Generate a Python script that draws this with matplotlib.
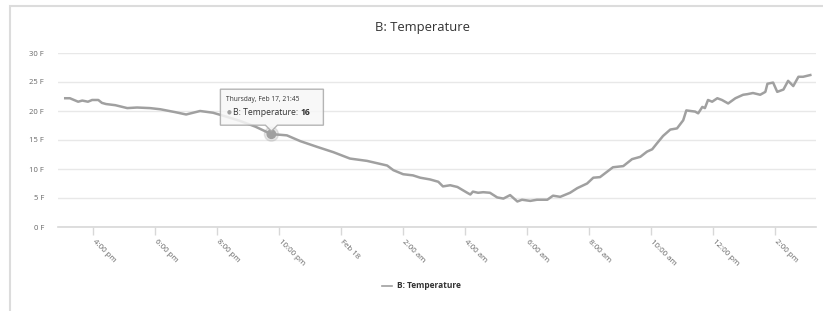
import numpy as np
import pandas as pd
import matplotlib
matplotlib.use("Agg")
import matplotlib.pyplot as plt
import matplotlib.dates as mdates
from matplotlib.patches import Rectangle, Polygon, Circle
from matplotlib.transforms import IdentityTransform

plt.rcParams['font.family'] = ['Open Sans', 'DejaVu Sans']

# readings, Feb 17 -> Feb 18 2022 (deg F)
times = ["2022-02-17 15:06", "2022-02-17 15:15", "2022-02-17 15:31", "2022-02-17 15:39",
         "2022-02-17 15:50", "2022-02-17 15:58", "2022-02-17 16:10", "2022-02-17 16:17",
         "2022-02-17 16:25", "2022-02-17 16:43", "2022-02-17 17:06", "2022-02-17 17:25",
         "2022-02-17 17:50", "2022-02-17 18:10", "2022-02-17 18:39", "2022-02-17 19:00",
         "2022-02-17 19:27", "2022-02-17 19:52", "2022-02-17 20:15", "2022-02-17 20:44",
         "2022-02-17 21:14", "2022-02-17 21:45", "2022-02-17 22:02", "2022-02-17 22:15",
         "2022-02-17 22:41", "2022-02-17 23:14", "2022-02-17 23:45", "2022-02-18 00:17",
         "2022-02-18 00:50", "2022-02-18 01:29", "2022-02-18 01:41", "2022-02-18 02:00",
         "2022-02-18 02:19", "2022-02-18 02:33", "2022-02-18 02:52", "2022-02-18 03:08",
         "2022-02-18 03:17", "2022-02-18 03:31", "2022-02-18 03:45", "2022-02-18 04:04",
         "2022-02-18 04:10", "2022-02-18 04:15", "2022-02-18 04:25", "2022-02-18 04:35",
         "2022-02-18 04:48", "2022-02-18 05:02", "2022-02-18 05:14", "2022-02-18 05:27",
         "2022-02-18 05:41", "2022-02-18 05:50", "2022-02-18 06:06", "2022-02-18 06:19",
         "2022-02-18 06:39", "2022-02-18 06:50", "2022-02-18 07:04", "2022-02-18 07:23",
         "2022-02-18 07:37", "2022-02-18 07:56", "2022-02-18 08:08", "2022-02-18 08:21",
         "2022-02-18 08:46", "2022-02-18 09:06", "2022-02-18 09:23", "2022-02-18 09:39",
         "2022-02-18 09:52", "2022-02-18 10:02", "2022-02-18 10:11", "2022-02-18 10:23",
         "2022-02-18 10:37", "2022-02-18 10:50", "2022-02-18 11:02", "2022-02-18 11:08",
         "2022-02-18 11:25", "2022-02-18 11:31", "2022-02-18 11:39", "2022-02-18 11:44",
         "2022-02-18 11:50", "2022-02-18 11:58", "2022-02-18 12:08", "2022-02-18 12:17",
         "2022-02-18 12:29", "2022-02-18 12:43", "2022-02-18 12:58", "2022-02-18 13:06",
         "2022-02-18 13:17", "2022-02-18 13:31", "2022-02-18 13:41", "2022-02-18 13:45",
         "2022-02-18 13:56", "2022-02-18 14:04", "2022-02-18 14:16", "2022-02-18 14:25",
         "2022-02-18 14:35", "2022-02-18 14:45", "2022-02-18 14:54", "2022-02-18 15:08"]
temps = [22.2, 22.2, 21.6, 21.8, 21.6, 21.9, 21.9, 21.4,
         21.2, 21.0, 20.5, 20.6, 20.5, 20.3, 19.8, 19.4,
         20.0, 19.7, 19.1, 18.3, 17.3, 16.0, 15.9, 15.8,
         14.8, 13.8, 12.9, 11.8, 11.4, 10.6, 9.8, 9.1,
         8.9, 8.5, 8.2, 7.8, 7.0, 7.2, 6.9, 5.9,
         5.6, 6.1, 5.9, 6.0, 5.9, 5.1, 4.9, 5.5,
         4.4, 4.7, 4.5, 4.7, 4.7, 5.4, 5.2, 5.9,
         6.7, 7.5, 8.5, 8.6, 10.3, 10.5, 11.7, 12.1,
         13.0, 13.4, 14.4, 15.7, 16.8, 17.0, 18.4, 20.1,
         19.9, 19.6, 20.7, 20.5, 21.9, 21.6, 22.2, 21.9,
         21.3, 22.2, 22.8, 22.9, 23.1, 22.8, 23.3, 24.7,
         24.9, 23.3, 23.7, 25.2, 24.3, 25.9, 25.9, 26.2]

tick_times = ["2022-02-17 16:00", "2022-02-17 18:00", "2022-02-17 20:00", "2022-02-17 22:00",
              "2022-02-18 00:00", "2022-02-18 02:00", "2022-02-18 04:00", "2022-02-18 06:00",
              "2022-02-18 08:00", "2022-02-18 10:00", "2022-02-18 12:00", "2022-02-18 14:00"]
tick_labels = ["4:00 pm", "6:00 pm", "8:00 pm", "10:00 pm", "Feb 18", "2:00 am",
               "4:00 am", "6:00 am", "8:00 am", "10:00 am", "12:00 pm", "2:00 pm"]
y_ticks = [0, 5, 10, 15, 20, 25, 30]
hover_idx = 21  # Thursday, Feb 17, 21:45

t = pd.to_datetime(times)
W, H = 823, 311
fig = plt.figure(figsize=(W / 100, H / 100), dpi=100)
ax = fig.add_axes([58 / W, 1 - 227 / H, (816 - 58) / W, (227 - 53) / H])

line_col = '#a0a0a0'
ax.plot(t, temps, color=line_col, lw=1.8, solid_joinstyle='round', label='B: Temperature')

ax.set_xlim(pd.Timestamp("2022-02-17 14:52"), pd.Timestamp("2022-02-18 15:19"))
ax.set_ylim(0, 30)
ax.set_yticks(y_ticks)
ax.set_yticklabels([f"{v} F" for v in y_ticks], fontsize=5.5, color='#666666')
ax.set_xticks(pd.to_datetime(tick_times))
ax.set_xticklabels(tick_labels, fontsize=5.7, color='#666666', rotation=-45,
                   ha='left', va='center', rotation_mode='anchor')
ax.tick_params(axis='y', length=0, pad=10)
ax.tick_params(axis='x', length=6, width=1, color='#d8d8d8', pad=4)
ax.grid(axis='y', color='#e8e8e8', lw=1)
for s in ['top', 'right', 'left']:
    ax.spines[s].set_visible(False)
ax.spines['bottom'].set_color('#d8d8d8')
ax.spines['bottom'].set_linewidth(1.2)
ax.set_axisbelow(True)

fig.text(422 / W, 1 - 28 / H, "B: Temperature", ha='center', va='center',
         fontsize=9.4, color='#333333')

leg = ax.legend(loc='center', bbox_to_anchor=(421 / W, 1 - 286 / H), bbox_transform=fig.transFigure,
                frameon=False, handlelength=1.3, handletextpad=0.5, prop={'size': 6, 'weight': 'bold'})
for txt in leg.get_texts():
    txt.set_color('#333333')
for h in leg.get_lines():
    h.set_linewidth(1.2)

# outer container border
fig.patches.append(Rectangle((10 / W, -0.1), 1.2, 1 - 6 / H + 0.1, transform=fig.transFigure,
                             fill=False, edgecolor='#dcdcdc', lw=1.5))

# tooltip
fig.canvas.draw()
px, py = ax.transData.transform((mdates.date2num(t[hover_idx]), temps[hover_idx]))
ident = IdentityTransform()
ax.add_artist(Circle((px, py), 7, transform=ident, color=line_col, alpha=0.25, clip_on=False, zorder=5))
ax.add_artist(Circle((px, py), 4.2, transform=ident, color=line_col, clip_on=False, zorder=6))
bx0, bx1 = px - 51, px + 52
by_bot, by_top = py + 9, py + 45
tip = [(bx0, by_bot), (px - 6, by_bot), (px, py + 3), (px + 6, by_bot), (bx1, by_bot),
       (bx1, by_top), (bx0, by_top)]
fig.patches.append(Polygon(tip, closed=True, transform=ident, facecolor='#f7f7f7', alpha=0.85,
                           edgecolor='#a8a8a8', lw=1, zorder=7))
fig.text(bx0 + 6, by_top - 10, "Thursday, Feb 17, 21:45", transform=ident, fontsize=4.8,
         color='#333333', va='center', zorder=8)
fig.text(bx0 + 6, by_top - 23, "\u25CF", transform=ident, fontsize=4, color=line_col,
         va='center', zorder=8)
lbl = fig.text(bx0 + 13, by_top - 23, "B: Temperature: ", transform=ident, fontsize=6.2,
               color='#333333', va='center', zorder=8)
fig.canvas.draw()
ext = lbl.get_window_extent()
fig.text(ext.x1, by_top - 23, f"{temps[hover_idx]:g}", transform=ident, fontsize=6.2,
         color='#333333', va='center', weight='bold', zorder=8)

fig.savefig("out.png", dpi=100, facecolor='white')
